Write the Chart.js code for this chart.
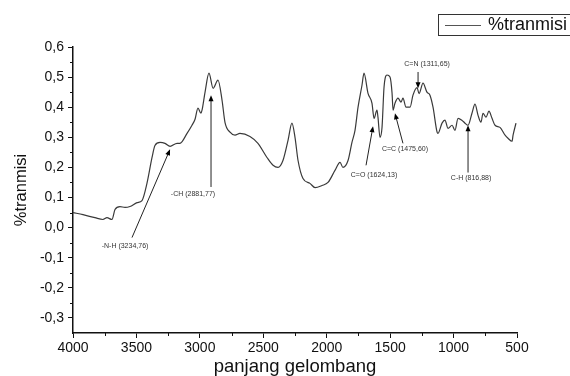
<!DOCTYPE html>
<html>
<head>
<meta charset="utf-8">
<script src="https://cdn.jsdelivr.net/npm/chart.js@4.4.1/dist/chart.umd.min.js"></script>
<style>
    html, body { margin: 0; padding: 0; background: #fff; }
    #wrap { width: 570px; height: 376px; }
</style>
</head>
<body>
<div id="wrap"><canvas id="spectrumChart"></canvas></div>
<script>
// wavenumber (cm-1) and %transmittance
const wavenumbers = [4000, 3921, 3827, 3764, 3732, 3693, 3669, 3630, 3590, 3551,
    3495, 3456, 3417, 3377, 3354, 3314, 3275, 3235, 3180, 3157,
    3101, 3062, 3038, 3015, 2991, 2983, 2959, 2928, 2896, 2857,
    2825, 2802, 2762, 2723, 2684, 2605, 2542, 2471, 2423, 2384,
    2345, 2305, 2274, 2250, 2226, 2187, 2132, 2092, 2037, 1990,
    1935, 1895, 1872, 1832, 1801, 1777, 1753, 1722, 1706, 1675,
    1643, 1627, 1604, 1596, 1580, 1564, 1548, 1525, 1501, 1485,
    1477, 1462, 1438, 1414, 1399, 1375, 1343, 1320, 1288, 1272,
    1241, 1210, 1186, 1162, 1130, 1123, 1091, 1068, 1044, 1012,
    989, 965, 935, 910, 886, 855, 831, 807, 784, 768,
    744, 721, 697, 673, 634, 594, 571, 539, 531, 508];
const transmisi = [0.05, 0.043, 0.033, 0.027, 0.033, 0.027, 0.06, 0.07, 0.067, 0.07,
    0.083, 0.09, 0.147, 0.233, 0.273, 0.283, 0.28, 0.27, 0.28, 0.28,
    0.313, 0.34, 0.36, 0.397, 0.38, 0.39, 0.45, 0.513, 0.463, 0.49,
    0.423, 0.35, 0.317, 0.307, 0.313, 0.303, 0.28, 0.233, 0.207, 0.2,
    0.223, 0.29, 0.347, 0.3, 0.223, 0.163, 0.147, 0.133, 0.14, 0.15,
    0.19, 0.217, 0.2, 0.223, 0.283, 0.323, 0.4, 0.473, 0.513, 0.447,
    0.413, 0.363, 0.39, 0.367, 0.3, 0.333, 0.467, 0.507, 0.5, 0.447,
    0.39, 0.413, 0.43, 0.417, 0.43, 0.4, 0.4, 0.44, 0.465, 0.445,
    0.48, 0.45, 0.44, 0.4, 0.317, 0.313, 0.347, 0.357, 0.33, 0.34,
    0.323, 0.363, 0.357, 0.347, 0.34, 0.38, 0.41, 0.373, 0.35, 0.38,
    0.367, 0.387, 0.363, 0.34, 0.333, 0.307, 0.297, 0.287, 0.307, 0.347];

const xTicks = [4000, 3500, 3000, 2500, 2000, 1500, 1000, 500];
const yTicks = [-0.3, -0.2, -0.1, 0.0, 0.1, 0.2, 0.3, 0.4, 0.5, 0.6];

// peak labels, in data units: arrow tail, arrow tip, label centre
const peakLabels = ['-N-H (3234,76)', '-CH (2881,77)', 'C=O (1624,13)', 'C=C (1475,60)', 'C=N (1311,65)', 'C-H (816,88)'];
const peakTail = [[3535, -0.033], [2912, 0.135], [1690, 0.207], [1399, 0.28], [1280, 0.517], [886, 0.183]];
const peakTip = [[3235, 0.26], [2912, 0.44], [1635, 0.337], [1462, 0.38], [1280, 0.463], [886, 0.34]];
const peakText = [[3590, -0.06], [3054, 0.113], [1627, 0.173], [1383, 0.26], [1209, 0.543], [862, 0.163]];

const seriesName = '%tranmisi';

const points = wavenumbers.map((w, i) => ({ x: w, y: transmisi[i] }));

const extrasPlugin = {
    id: 'extras',
    afterDraw(chart) {
        const c = chart.ctx;
        const xs = chart.scales.x;
        const ys = chart.scales.y;
        const area = chart.chartArea;

        // minor ticks
        c.save();
        c.strokeStyle = '#111';
        c.lineWidth = 1;
        c.beginPath();
        for (let i = 0; i < xTicks.length - 1; i++) {
            const px = Math.round(xs.getPixelForValue((xTicks[i] + xTicks[i + 1]) / 2)) + 0.5;
            c.moveTo(px, area.bottom);
            c.lineTo(px, area.bottom + 3);
        }
        for (let i = 0; i < yTicks.length - 1; i++) {
            const py = Math.round(ys.getPixelForValue((yTicks[i] + yTicks[i + 1]) / 2)) + 0.5;
            c.moveTo(area.left, py);
            c.lineTo(area.left - 3, py);
        }
        c.stroke();

        // peak arrows and labels
        c.font = '7px Arial';
        c.textAlign = 'center';
        c.textBaseline = 'middle';
        peakLabels.forEach((label, i) => {
            const x1 = xs.getPixelForValue(peakTail[i][0]);
            const y1 = ys.getPixelForValue(peakTail[i][1]);
            const x2 = xs.getPixelForValue(peakTip[i][0]);
            const y2 = ys.getPixelForValue(peakTip[i][1]);
            const ang = Math.atan2(y2 - y1, x2 - x1);
            c.strokeStyle = '#222';
            c.lineWidth = 1;
            c.beginPath();
            c.moveTo(x1, y1);
            c.lineTo(x2 - 4 * Math.cos(ang), y2 - 4 * Math.sin(ang));
            c.stroke();
            c.fillStyle = '#000';
            c.beginPath();
            c.moveTo(x2, y2);
            c.lineTo(x2 - 6 * Math.cos(ang) + 2.5 * Math.sin(ang), y2 - 6 * Math.sin(ang) - 2.5 * Math.cos(ang));
            c.lineTo(x2 - 6 * Math.cos(ang) - 2.5 * Math.sin(ang), y2 - 6 * Math.sin(ang) + 2.5 * Math.cos(ang));
            c.closePath();
            c.fill();
            c.fillStyle = '#333';
            c.fillText(label, xs.getPixelForValue(peakText[i][0]), ys.getPixelForValue(peakText[i][1]));
        });

        // boxed legend, top right
        c.strokeStyle = '#333';
        c.lineWidth = 1;
        c.strokeRect(438.5, 14.5, 150, 21);
        c.strokeStyle = '#555';
        c.beginPath();
        c.moveTo(445, 25.5);
        c.lineTo(481, 25.5);
        c.stroke();
        c.fillStyle = '#111';
        c.font = '18px Arial';
        c.textAlign = 'left';
        c.fillText(seriesName, 488, 25);
        c.restore();
    }
};

const ctx = document.getElementById('spectrumChart').getContext('2d');

new Chart(ctx, {
    type: 'line',
    data: {
        datasets: [{
            label: seriesName,
            data: points,
            borderColor: '#3a3a3a',
            borderWidth: 1.2,
            pointRadius: 0,
            cubicInterpolationMode: 'monotone',
            fill: false
        }]
    },
    options: {
        responsive: true,
        maintainAspectRatio: false,
        animation: false,
        layout: {
            padding: { top: 47, right: 53, bottom: 0, left: 0 }
        },
        scales: {
            x: {
                type: 'linear',
                reverse: true,
                min: 500,
                max: 4000,
                afterBuildTicks: (scale) => { scale.ticks = xTicks.map(v => ({ value: v })); },
                afterFit: (scale) => { scale.height = 43; },
                border: { display: true, color: '#111', width: 1.5 },
                grid: { drawOnChartArea: false, drawTicks: true, tickLength: 5, tickColor: '#111' },
                ticks: {
                    color: '#111',
                    padding: 2,
                    maxRotation: 0,
                    font: { family: 'Arial', size: 14 },
                    callback: (v) => String(v)
                },
                title: {
                    display: true,
                    text: 'panjang gelombang',
                    color: '#111',
                    font: { family: 'Arial', size: 18.5, lineHeight: 1 },
                    padding: { top: -1, bottom: 0 }
                }
            },
            y: {
                min: -0.35,
                max: 0.6,
                afterBuildTicks: (scale) => { scale.ticks = yTicks.map(v => ({ value: v })); },
                afterFit: (scale) => { scale.width = 73; },
                border: { display: true, color: '#111', width: 1.5 },
                grid: { drawOnChartArea: false, drawTicks: true, tickLength: 5, tickColor: '#111' },
                ticks: {
                    color: '#111',
                    padding: 4,
                    font: { family: 'Arial', size: 14 },
                    callback: (v) => v.toFixed(1).replace('.', ',')
                },
                title: {
                    display: true,
                    text: '%tranmisi',
                    color: '#111',
                    font: { family: 'Arial', size: 16.5, lineHeight: 1 },
                    padding: { top: 13, bottom: 0 }
                }
            }
        },
        plugins: {
            legend: { display: false },
            tooltip: { enabled: false }
        }
    },
    plugins: [extrasPlugin]
});
</script>
</body>
</html>
